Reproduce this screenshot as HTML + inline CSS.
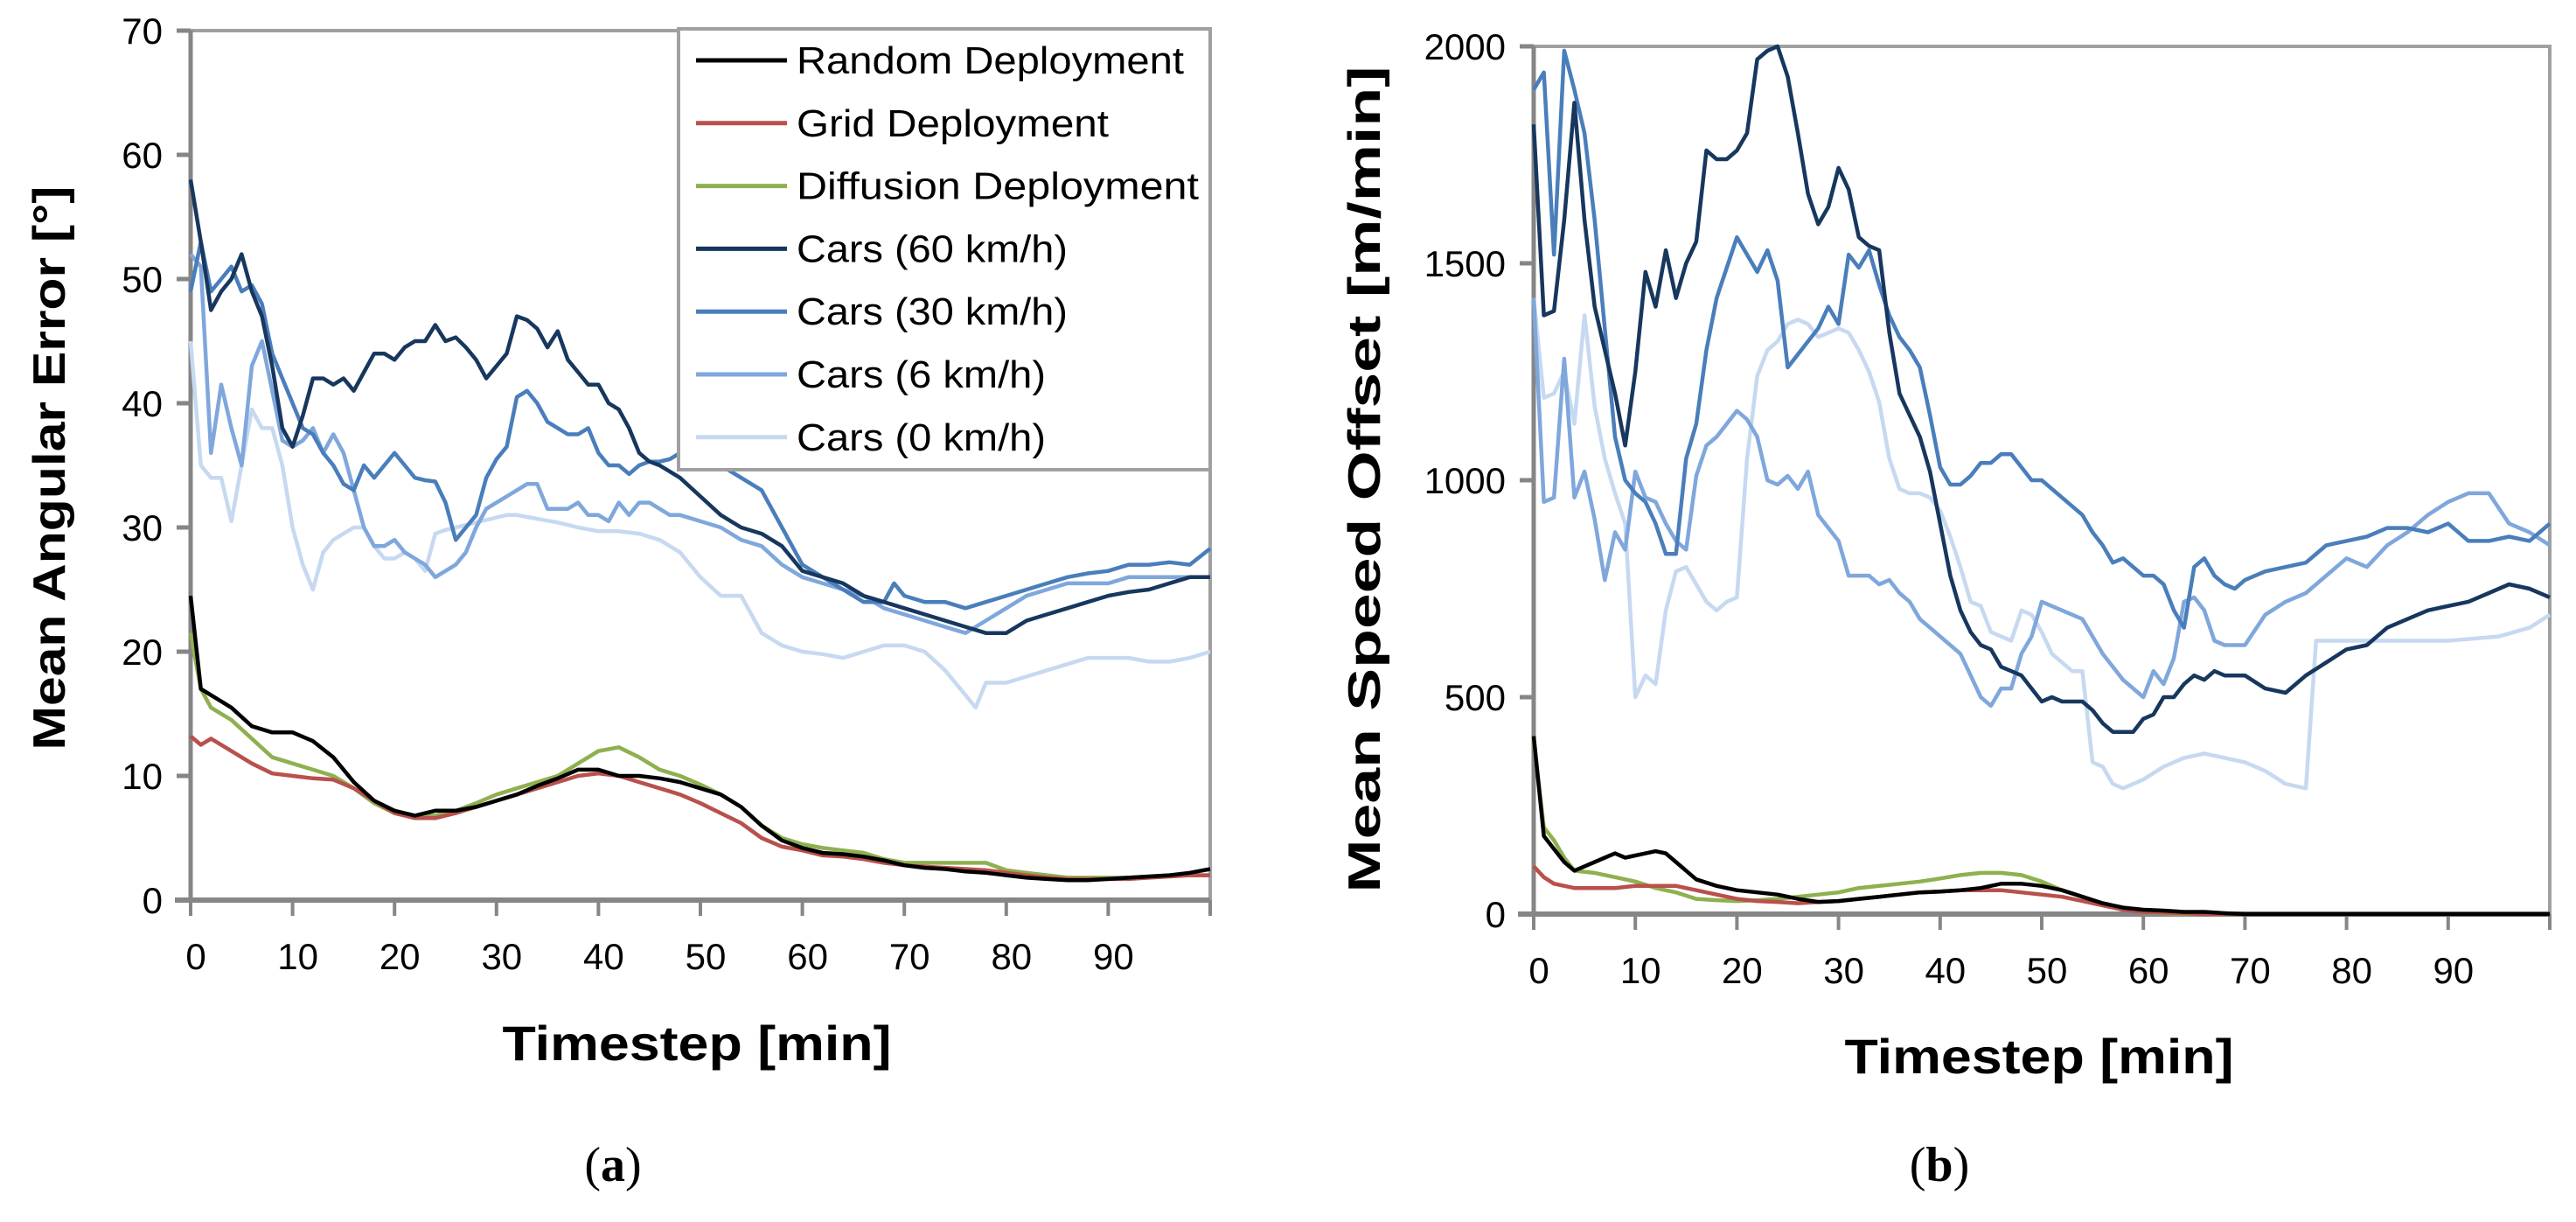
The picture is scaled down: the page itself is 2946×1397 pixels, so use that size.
<!DOCTYPE html>
<html><head><meta charset="utf-8"><style>
html,body{margin:0;padding:0;background:#fff;width:2946px;height:1397px;overflow:hidden}
svg{display:block}
text{font-family:"Liberation Sans",sans-serif}
</style></head><body>
<svg id="fig" width="2946" height="1397" viewBox="0 0 2946 1397" xmlns="http://www.w3.org/2000/svg">
<g id="chartA"></g>
<g id="chartB"></g>
<text x="701" y="1350" text-anchor="middle" font-size="56" style="font-family:'Liberation Serif',serif">(<tspan font-weight="bold">a</tspan>)</text>
<text x="2218" y="1350" text-anchor="middle" font-size="56" style="font-family:'Liberation Serif',serif">(<tspan font-weight="bold">b</tspan>)</text>
</svg>
<script>
const NS="http://www.w3.org/2000/svg";
const seriesNames=["Random Deployment","Grid Deployment","Diffusion Deployment","Cars (60 km/h)","Cars (30 km/h)","Cars (6 km/h)","Cars (0 km/h)"];
const seriesColors=["#000000","#b9504c","#8fb04f","#17375e","#4a7ebb","#7fa7dc","#c6d9f1"];
const xTicks=[0,10,20,30,40,50,60,70,80,90];
const aTicks=[0,10,20,30,40,50,60,70];
const bTicks=[0,500,1000,1500,2000];

const aRandom=[[0,24.5],[1,17],[2,16.5],[4,15.5],[6,14],[8,13.5],[10,13.5],[12,12.8],[14,11.5],[16,9.5],[18,8],[20,7.2],[22,6.8],[24,7.2],[26,7.2],[28,7.5],[30,8],[32,8.5],[34,9.2],[36,9.8],[38,10.5],[40,10.5],[42,10],[44,10],[46,9.8],[48,9.5],[50,9],[52,8.5],[54,7.5],[56,6],[58,4.8],[60,4.2],[62,3.8],[64,3.7],[66,3.5],[68,3.2],[70,2.8],[72,2.6],[74,2.5],[76,2.3],[78,2.2],[80,2],[82,1.8],[84,1.7],[86,1.6],[88,1.6],[90,1.7],[92,1.8],[94,1.9],[96,2],[98,2.2],[100,2.5]];
const aGrid=[[0,13.2],[1,12.5],[2,13],[4,12],[6,11],[8,10.2],[10,10],[12,9.8],[14,9.7],[16,9],[18,8],[20,7],[22,6.6],[24,6.6],[26,7],[28,7.5],[30,8],[32,8.5],[34,9],[36,9.5],[38,10],[40,10.2],[42,10],[44,9.5],[46,9],[48,8.5],[50,7.8],[52,7],[54,6.2],[56,5],[58,4.3],[60,4],[62,3.6],[64,3.5],[66,3.3],[68,3],[70,2.8],[72,2.7],[74,2.6],[76,2.5],[78,2.4],[80,2.2],[82,2],[84,1.8],[86,1.7],[88,1.7],[90,1.7],[92,1.7],[94,1.8],[96,1.9],[98,2],[100,2]];
const aDiffusion=[[0,21.5],[1,17],[2,15.5],[4,14.5],[6,13],[8,11.5],[10,11],[12,10.5],[14,10],[16,9],[18,7.8],[20,7],[22,6.7],[24,6.8],[26,7.2],[28,7.8],[30,8.5],[32,9],[34,9.5],[36,10],[38,11],[40,12],[42,12.3],[44,11.5],[46,10.5],[48,10],[50,9.3],[52,8.5],[54,7.5],[56,6],[58,5],[60,4.5],[62,4.2],[64,4],[66,3.8],[68,3.3],[70,3],[72,3],[74,3],[76,3],[78,3],[80,2.4],[82,2.2],[84,2],[86,1.8],[88,1.8],[90,1.8],[92,1.8],[94,1.9],[96,2],[98,2],[100,2]];
const aCars60=[[0,58],[1,53],[2,47.5],[3,49],[4,50],[5,52],[6,49],[7,47],[8,43],[9,38],[10,36.5],[11,39],[12,42],[13,42],[14,41.5],[15,42],[16,41],[17,42.5],[18,44],[19,44],[20,43.5],[21,44.5],[22,45],[23,45],[24,46.3],[25,45],[26,45.3],[27,44.5],[28,43.5],[29,42],[30,43],[31,44],[32,47],[33,46.7],[34,46],[35,44.5],[36,45.8],[37,43.5],[38,42.5],[39,41.5],[40,41.5],[41,40],[42,39.5],[43,38],[44,36],[45,35.3],[46,35],[48,34],[50,32.5],[52,31],[54,30],[56,29.5],[58,28.5],[60,26.5],[62,26],[64,25.5],[66,24.5],[68,24],[70,23.5],[72,23],[74,22.5],[76,22],[78,21.5],[80,21.5],[82,22.5],[84,23],[86,23.5],[88,24],[90,24.5],[92,24.8],[94,25],[96,25.5],[98,26],[100,26]];
const aCars30=[[0,49],[1,53],[2,49],[3,50],[4,51],[5,49],[6,49.5],[7,48],[8,44],[9,42],[10,40],[11,38],[12,37.5],[13,36],[14,35],[15,33.5],[16,33],[17,35],[18,34],[19,35],[20,36],[21,35],[22,34],[23,33.8],[24,33.7],[25,32],[26,29],[27,30],[28,31],[29,34],[30,35.5],[31,36.5],[32,40.5],[33,41],[34,40],[35,38.5],[36,38],[37,37.5],[38,37.5],[39,38],[40,36],[41,35],[42,35],[43,34.3],[44,35],[45,35.3],[46,35.3],[47,35.5],[48,36],[49,35.5],[50,35],[52,35],[54,34],[56,33],[58,30],[60,27],[62,26],[64,25],[66,24],[68,24],[69,25.5],[70,24.5],[72,24],[74,24],[76,23.5],[78,24],[80,24.5],[82,25],[84,25.5],[86,26],[88,26.3],[90,26.5],[92,27],[94,27],[96,27.2],[98,27],[100,28.3]];
const aCars6=[[0,52],[1,51],[2,36],[3,41.5],[4,38],[5,35],[6,43],[7,45],[8,41],[9,37],[10,36.5],[11,37],[12,38],[13,36],[14,37.5],[15,36],[16,33],[17,30],[18,28.5],[19,28.5],[20,29],[21,28],[22,27.5],[23,27],[24,26],[25,26.5],[26,27],[27,28],[28,30],[29,31.5],[30,32],[31,32.5],[32,33],[33,33.5],[34,33.5],[35,31.5],[36,31.5],[37,31.5],[38,32],[39,31],[40,31],[41,30.5],[42,32],[43,31],[44,32],[45,32],[46,31.5],[47,31],[48,31],[50,30.5],[52,30],[54,29],[56,28.5],[58,27],[60,26],[62,25.5],[64,25],[66,24.5],[68,23.5],[70,23],[72,22.5],[74,22],[76,21.5],[78,22.5],[80,23.5],[82,24.5],[84,25],[86,25.5],[88,25.5],[90,25.5],[92,26],[94,26],[96,26],[98,26],[100,26]];
const aCars0=[[0,45],[1,35],[2,34],[3,34],[4,30.5],[5,35],[6,39.5],[7,38],[8,38],[9,35],[10,30],[11,27],[12,25],[13,28],[14,29],[15,29.5],[16,30],[17,30],[18,28.5],[19,27.5],[20,27.5],[21,28],[22,27.5],[23,26.5],[24,29.5],[25,29.8],[26,30],[27,30.2],[28,30.4],[29,30.6],[30,30.8],[31,31],[32,31],[34,30.7],[36,30.4],[38,30],[40,29.7],[42,29.7],[44,29.5],[46,29],[48,28],[50,26],[52,24.5],[54,24.5],[56,21.5],[58,20.5],[60,20],[62,19.8],[64,19.5],[66,20],[68,20.5],[70,20.5],[72,20],[74,18.5],[76,16.5],[77,15.5],[78,17.5],[80,17.5],[82,18],[84,18.5],[86,19],[88,19.5],[90,19.5],[92,19.5],[94,19.2],[96,19.2],[98,19.5],[100,20]];

const bRandom=[[0,410],[1,180],[2,150],[3,120],[4,100],[5,110],[6,120],[7,130],[8,140],[9,130],[10,135],[11,140],[12,145],[13,140],[14,120],[15,100],[16,80],[18,65],[20,55],[22,50],[24,45],[26,35],[28,28],[30,30],[32,35],[34,40],[36,45],[38,50],[40,52],[42,55],[44,60],[46,70],[48,70],[50,65],[52,55],[54,40],[56,25],[58,15],[60,10],[62,8],[64,5],[66,5],[68,2],[70,0],[100,0]];
const bGrid=[[0,110],[1,85],[2,70],[4,60],[6,60],[8,60],[10,65],[12,65],[14,65],[16,55],[18,45],[20,35],[22,30],[24,28],[26,25],[28,28],[30,30],[32,35],[34,40],[36,45],[38,50],[40,52],[42,55],[44,55],[46,55],[48,50],[50,45],[52,40],[54,30],[56,20],[58,10],[60,5],[64,2],[66,0],[100,0]];
const bDiffusion=[[0,400],[1,200],[2,170],[3,130],[4,100],[6,95],[8,85],[10,75],[12,60],[14,50],[16,35],[18,32],[20,30],[22,32],[24,35],[26,40],[28,45],[30,50],[32,60],[34,65],[36,70],[38,75],[40,82],[42,90],[44,95],[46,95],[48,90],[50,75],[52,55],[54,40],[56,25],[58,15],[60,5],[62,2],[64,0],[100,0]];
const bCars60=[[0,1820],[1,1380],[2,1390],[3,1600],[4,1870],[5,1600],[6,1400],[7,1300],[8,1200],[9,1080],[10,1250],[11,1480],[12,1400],[13,1530],[14,1420],[15,1500],[16,1550],[17,1760],[18,1740],[19,1740],[20,1760],[21,1800],[22,1970],[23,1990],[24,2000],[25,1930],[26,1800],[27,1660],[28,1590],[29,1630],[30,1720],[31,1670],[32,1560],[33,1540],[34,1530],[35,1340],[36,1200],[37,1150],[38,1100],[39,1020],[40,900],[41,780],[42,700],[43,650],[44,620],[45,610],[46,570],[47,560],[48,550],[49,520],[50,490],[51,500],[52,490],[53,490],[54,490],[55,470],[56,440],[57,420],[58,420],[59,420],[60,450],[61,460],[62,500],[63,500],[64,530],[65,550],[66,540],[67,560],[68,550],[70,550],[72,520],[74,510],[76,550],[78,580],[80,610],[82,620],[84,660],[86,680],[88,700],[90,710],[92,720],[94,740],[96,760],[98,750],[100,730]];
const bCars30=[[0,1900],[1,1940],[2,1520],[3,1990],[4,1900],[5,1800],[6,1600],[7,1350],[8,1100],[9,1000],[10,970],[11,950],[12,900],[13,830],[14,830],[15,1050],[16,1130],[17,1300],[18,1420],[19,1490],[20,1560],[21,1520],[22,1480],[23,1530],[24,1460],[25,1260],[26,1290],[27,1320],[28,1350],[29,1400],[30,1360],[31,1520],[32,1490],[33,1530],[34,1450],[35,1380],[36,1330],[37,1300],[38,1260],[39,1150],[40,1030],[41,990],[42,990],[43,1010],[44,1040],[45,1040],[46,1060],[47,1060],[48,1030],[49,1000],[50,1000],[51,980],[52,960],[53,940],[54,920],[55,880],[56,850],[57,810],[58,820],[59,800],[60,780],[61,780],[62,760],[63,700],[64,660],[65,800],[66,820],[67,780],[68,760],[69,750],[70,770],[72,790],[74,800],[76,810],[78,850],[80,860],[82,870],[84,890],[86,890],[88,880],[90,900],[92,860],[94,860],[96,870],[98,860],[100,900]];
const bCars6=[[0,1420],[1,950],[2,960],[3,1280],[4,960],[5,1020],[6,910],[7,770],[8,880],[9,840],[10,1020],[11,960],[12,950],[13,900],[14,860],[15,840],[16,1010],[17,1080],[18,1100],[19,1130],[20,1160],[21,1140],[22,1100],[23,1000],[24,990],[25,1010],[26,980],[27,1020],[28,920],[29,890],[30,860],[31,780],[32,780],[33,780],[34,760],[35,770],[36,740],[37,720],[38,680],[39,660],[40,640],[41,620],[42,600],[43,550],[44,500],[45,480],[46,520],[47,520],[48,600],[49,640],[50,720],[52,700],[54,680],[56,600],[58,540],[60,500],[61,560],[62,530],[63,590],[64,720],[65,730],[66,700],[67,630],[68,620],[70,620],[72,690],[74,720],[76,740],[78,780],[80,820],[82,800],[84,850],[86,880],[88,920],[90,950],[92,970],[94,970],[96,900],[98,880],[100,850]];
const bCars0=[[0,1420],[1,1190],[2,1200],[3,1250],[4,1130],[5,1380],[6,1170],[7,1050],[8,970],[9,900],[10,500],[11,550],[12,530],[13,700],[14,790],[15,800],[16,760],[17,720],[18,700],[19,720],[20,730],[21,1050],[22,1240],[23,1300],[24,1320],[25,1360],[26,1370],[27,1360],[28,1330],[29,1340],[30,1350],[31,1340],[32,1300],[33,1250],[34,1180],[35,1050],[36,980],[37,970],[38,970],[39,960],[40,930],[41,870],[42,800],[43,720],[44,710],[45,650],[46,640],[47,630],[48,700],[49,690],[50,650],[51,600],[52,580],[53,560],[54,560],[55,350],[56,340],[57,300],[58,290],[59,300],[60,310],[62,340],[64,360],[66,370],[68,360],[70,350],[72,330],[74,300],[76,290],[77,630],[78,630],[80,630],[85,630],[90,630],[95,640],[98,660],[100,690]];

function mk(parent,tag,attrs,text){const e=document.createElementNS(NS,tag);for(const k in attrs)e.setAttribute(k,attrs[k]);if(text!==undefined)e.textContent=text;parent.appendChild(e);return e;}

function drawChart(g,cfg,series){
  const xs=v=>cfg.x0+(v/100)*(cfg.x1-cfg.x0);
  const ys=v=>cfg.yb-(v/cfg.ymax)*(cfg.yb-cfg.yt);
  const frame=mk(g,'rect',{x:cfg.x0,y:cfg.yt,width:cfg.x1-cfg.x0,height:cfg.yb-cfg.yt,fill:'none',stroke:'#a0a0a0','stroke-width':4});
  
  
  cfg.yTicks.forEach(t=>{
    const tk=mk(g,'line',{x1:cfg.x0-16,x2:cfg.x0,y1:ys(t),y2:ys(t),stroke:'#868686','stroke-width':5});
    
    
    const lb=mk(g,'text',{x:cfg.x0-32,y:ys(t)+15,'text-anchor':'end','font-size':42,fill:'#000'},String(t));
    
    
  });
  xTicks.concat([100]).forEach(t=>{
    const tk=mk(g,'line',{x1:xs(t),x2:xs(t),y1:cfg.yb,y2:cfg.yb+18,stroke:'#868686','stroke-width':4});
    
    
  });
  xTicks.forEach(t=>{
    const lb=mk(g,'text',{x:xs(t)+6,y:cfg.xlabY,'text-anchor':'middle','font-size':42,fill:'#000'},String(t));
    
    
  });
  const ax=mk(g,'line',{x1:cfg.x0,x2:cfg.x0,y1:cfg.yt,y2:cfg.yb,stroke:'#868686','stroke-width':5});
  
  
  const bx=mk(g,'line',{x1:cfg.x0-18,x2:cfg.x1,y1:cfg.yb,y2:cfg.yb,stroke:'#868686','stroke-width':6});
  
  
  for(let i=series.length-1;i>=0;i--){
    const pts=series[i].map(p=>xs(p[0]).toFixed(1)+','+ys(p[1]).toFixed(1)).join(' ');
    const pl=mk(g,'polyline',{points:pts,fill:'none',stroke:seriesColors[i],'stroke-width':4.5,'stroke-linejoin':'round'});
    
    
  }
  const xt=mk(g,'text',{x:cfg.xtX,y:cfg.xtY,'text-anchor':'middle','font-size':56,'font-weight':'bold',textLength:cfg.xtLen,lengthAdjust:'spacingAndGlyphs'},'Timestep [min]');
  
  
  const yt=mk(g,'text',{x:0,y:0,'text-anchor':'middle','font-size':52,'font-weight':'bold',textLength:cfg.ytLen,lengthAdjust:'spacingAndGlyphs',transform:`translate(${cfg.ytX},${cfg.ytY}) rotate(-90)`},cfg.ytitle);
  
  
  return {xs,ys};
}

const gA=document.getElementById('chartA');
drawChart(gA,{x0:218,x1:1384,yt:35,yb:1029,ymax:70,yTicks:aTicks,xlabY:1108,xtX:797,xtY:1212,xtLen:445,ytX:74,ytY:535,ytLen:645,ytitle:'Mean Angular Error [°]'},
  [aRandom,aGrid,aDiffusion,aCars60,aCars30,aCars6,aCars0]);
const gB=document.getElementById('chartB');
drawChart(gB,{x0:1754,x1:2916,yt:53,yb:1045,ymax:2000,yTicks:bTicks,xlabY:1124,xtX:2332,xtY:1227,xtLen:445,ytX:1578,ytY:548,ytLen:945,ytitle:'Mean Speed Offset [m/min]'},
  [bRandom,bGrid,bDiffusion,bCars60,bCars30,bCars6,bCars0]);

// legend
const lg=mk(gA,'g',{});


const lbox=mk(lg,'rect',{x:776,y:33,width:608,height:504,fill:'#fff',stroke:'#a0a0a0','stroke-width':4});


const legLens=[443,357,460,310,310,285,285];
seriesNames.forEach((n,i)=>{
  const y=69+i*71.8;
  const e=mk(lg,'g',{});
  
  
  mk(e,'line',{x1:796,x2:900,y1:y,y2:y,stroke:seriesColors[i],'stroke-width':5});
  mk(e,'text',{x:911,y:y+15,'font-size':44,textLength:legLens[i],lengthAdjust:'spacingAndGlyphs'},n);
});
</script>
</body></html>
